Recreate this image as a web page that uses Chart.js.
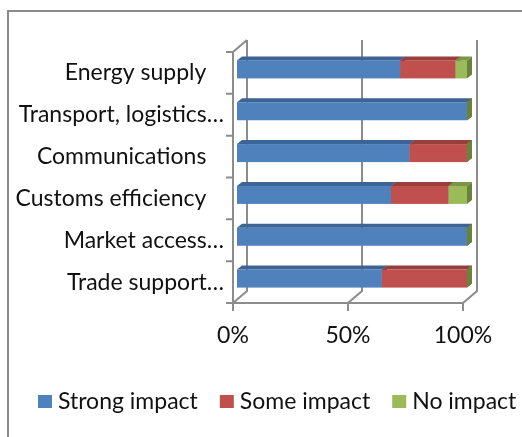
<!DOCTYPE html>
<html>
<head>
<meta charset="utf-8">
<script src="https://cdn.jsdelivr.net/npm/chart.js@4"></script>
<style>
  html, body { margin: 0; padding: 0; background: #fff; }
  #wrap { width: 522px; height: 437px; }
</style>
</head>
<body>
<div id="wrap"><canvas id="impactChart" width="522" height="437"></canvas></div>
<script>
// ---- data ----
const categories = ['Energy supply   ', 'Transport, logistics\u2026', 'Communications   ',
                    'Customs efficiency   ', 'Market access\u2026', 'Trade support\u2026'];
const strongImpact = [71, 100, 75, 67, 100, 63];
const someImpact   = [24, 0, 25, 25, 0, 37];
const noImpact     = [5, 0, 0, 8, 0, 0];
const seriesNames  = ['Strong impact', 'Some impact', 'No impact'];
const xTicks       = [0, 50, 100];

const colors = ['#4F81BD', '#C0504D', '#9BBB59'];
const topColors = ['#3C6596', '#983E3C', '#7A9645'];
const sideColors = ['#35598A', '#843634', '#6A833B'];
const lineColor = '#8C8C8C';
const FONT_SIZE = 23;
const FONT = FONT_SIZE + 'px Lato';

// wall depth and bar depth (3d look)
const WALL_DX = 14, WALL_DY = -12;
const BAR_OFF_X = 4, BAR_OFF_Y = -3.5;
const BAR_DX = 5, BAR_DY = -4;

const threeD = {
    id: 'threeD',
    beforeDraw(chart) {
        const ctx = chart.ctx;
        ctx.save();
        ctx.fillStyle = '#fff';
        ctx.fillRect(0, 0, chart.width, chart.height);
        // outer frame
        ctx.strokeStyle = lineColor;
        ctx.lineWidth = 2;
        ctx.beginPath();
        ctx.moveTo(8, chart.height + 5);
        ctx.lineTo(8, 11);
        ctx.lineTo(chart.width + 5, 11);
        ctx.stroke();
        ctx.restore();
    },
    beforeDatasetsDraw(chart) {
        const ctx = chart.ctx;
        const a = chart.chartArea;
        const xs = chart.scales.x;
        ctx.save();
        ctx.strokeStyle = lineColor;
        ctx.lineWidth = 2;
        ctx.beginPath();
        // back wall grid + floor diagonals
        xTicks.forEach(v => {
            const px = xs.getPixelForValue(v);
            ctx.moveTo(px + WALL_DX, a.top + WALL_DY);
            ctx.lineTo(px + WALL_DX, a.bottom + WALL_DY);
            ctx.lineTo(px, a.bottom);
            // tick marks below
            ctx.moveTo(px, a.bottom);
            ctx.lineTo(px, a.bottom + 8);
        });
        // left wall top edge and front axes
        ctx.moveTo(a.left + WALL_DX, a.top + WALL_DY);
        ctx.lineTo(a.left, a.top);
        ctx.lineTo(a.left, a.bottom);
        ctx.lineTo(a.right, a.bottom);
        // category boundary ticks
        const n = categories.length;
        const band = (a.bottom - a.top) / n;
        for (let i = 0; i <= n; i++) {
            const py = a.top + band * i;
            ctx.moveTo(a.left - 7, py);
            ctx.lineTo(a.left, py);
        }
        ctx.stroke();

        // bars, segment by segment from left to right
        const metas = [0, 1, 2].map(i => chart.getDatasetMeta(i));
        for (let c = 0; c < n; c++) {
            metas.forEach((meta, d) => {
                const el = meta.data[c];
                const p = el.getProps(['x', 'y', 'base', 'height'], true);
                const x0 = Math.min(p.base, p.x) + BAR_OFF_X;
                const x1 = Math.max(p.base, p.x) + BAR_OFF_X;
                const yt = p.y - p.height / 2 + BAR_OFF_Y;
                const yb = p.y + p.height / 2 + BAR_OFF_Y;
                // front
                ctx.fillStyle = colors[d];
                ctx.fillRect(x0, yt, x1 - x0, yb - yt);
                // top
                ctx.fillStyle = topColors[d];
                ctx.beginPath();
                ctx.moveTo(x0, yt);
                ctx.lineTo(x1, yt);
                ctx.lineTo(x1 + BAR_DX, yt + BAR_DY);
                ctx.lineTo(x0 + BAR_DX, yt + BAR_DY);
                ctx.closePath();
                ctx.fill();
                // right side
                ctx.fillStyle = sideColors[d];
                ctx.beginPath();
                ctx.moveTo(x1, yt);
                ctx.lineTo(x1 + BAR_DX, yt + BAR_DY);
                ctx.lineTo(x1 + BAR_DX, yb + BAR_DY);
                ctx.lineTo(x1, yb);
                ctx.closePath();
                ctx.fill();
            });
        }
        ctx.restore();
        return false;
    },
    afterDraw(chart) {
        // legend
        const ctx = chart.ctx;
        ctx.save();
        ctx.font = FONT;
        ctx.textBaseline = 'middle';
        let x = 38;
        const y = 402;
        seriesNames.forEach((name, i) => {
            ctx.fillStyle = colors[i];
            ctx.fillRect(x, y - 7, 14, 13);
            x += 14 + 6;
            ctx.fillStyle = '#111';
            ctx.fillText(name, x, y);
            x += ctx.measureText(name).width + 22;
        });
        ctx.restore();
    }
};

const makeSet = (i, values) => ({
    label: seriesNames[i],
    data: values,
    backgroundColor: colors[i],
    barThickness: 18
});

new Chart(document.getElementById('impactChart'), {
    type: 'bar',
    data: {
        labels: categories,
        datasets: [makeSet(0, strongImpact), makeSet(1, someImpact), makeSet(2, noImpact)]
    },
    options: {
        indexAxis: 'y',
        responsive: false,
        animation: false,
        layout: { padding: { left: 0, right: 59, top: 52, bottom: 74 } },
        plugins: { legend: { display: false }, tooltip: { enabled: false } },
        scales: {
            x: {
                stacked: true, min: 0, max: 100,
                grid: { display: false, drawTicks: false },
                border: { display: false },
                ticks: {
                    stepSize: 50, padding: 19, color: '#111',
                    font: { family: 'Lato', size: FONT_SIZE },
                    callback: v => v + '%'
                },
                afterFit: s => { s.height = 60; }
            },
            y: {
                stacked: true,
                grid: { display: false, drawTicks: false },
                border: { display: false },
                ticks: { padding: 9, color: '#111', font: { family: 'Lato', size: FONT_SIZE } },
                afterFit: s => { s.width = 233; }
            }
        }
    },
    plugins: [threeD]
});
</script>
</body>
</html>
